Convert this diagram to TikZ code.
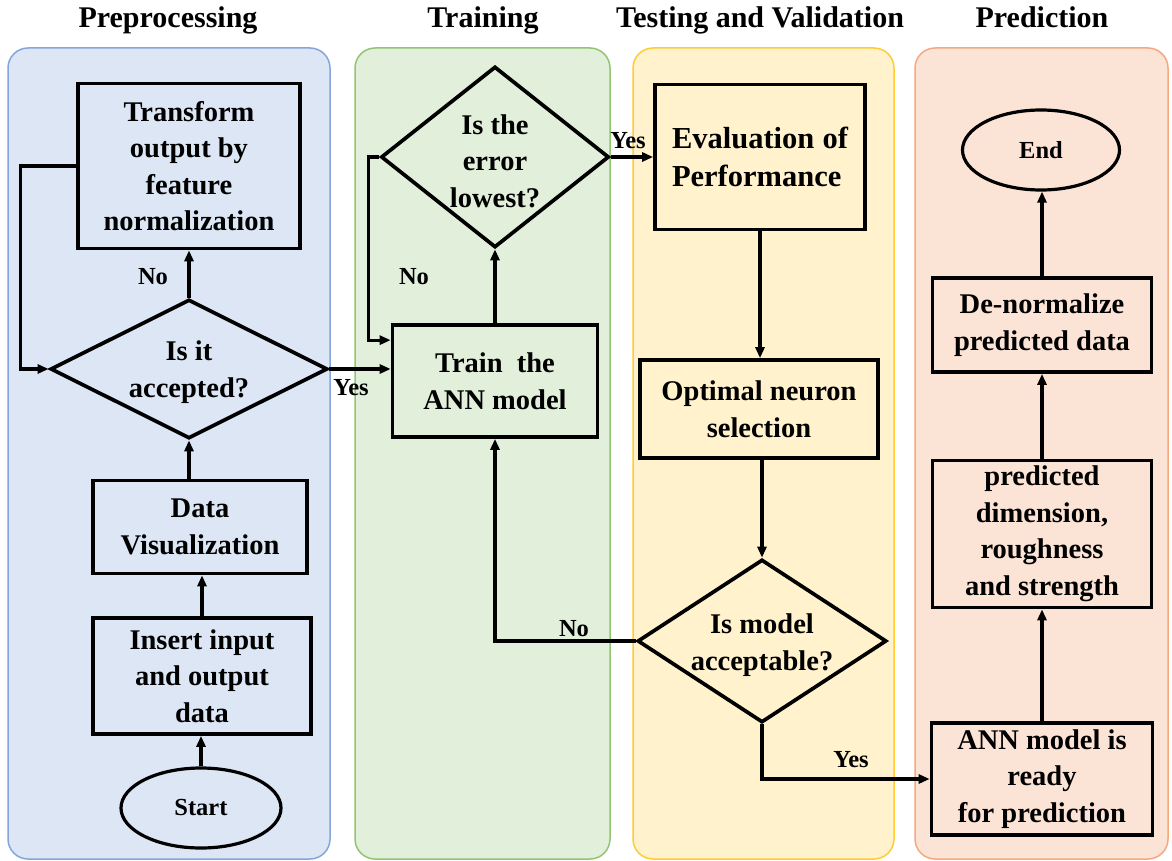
\documentclass[tikz,border=0pt]{standalone}
\usepackage{fontspec}
\setmainfont{Liberation Serif}
\usetikzlibrary{shapes.geometric,arrows.meta,calc}

\definecolor{preFill}{HTML}{DCE6F4}
\definecolor{preLine}{HTML}{86A5DC}
\definecolor{trnFill}{HTML}{E2EFDA}
\definecolor{trnLine}{HTML}{92C572}
\definecolor{tstFill}{HTML}{FFF2CC}
\definecolor{tstLine}{HTML}{FFCC33}
\definecolor{prdFill}{HTML}{FBE4D6}
\definecolor{prdLine}{HTML}{F4A97E}

\newcommand{\bodyfont}{\fontsize{28.5}{36.5}\selectfont\bfseries}
\newcommand{\widefont}{\fontsize{30.5}{38}\selectfont\bfseries}
\newcommand{\titlefont}{\fontsize{30}{36}\selectfont\bfseries}
\newcommand{\smallfont}{\fontsize{24.5}{30}\selectfont\bfseries}

\begin{document}
\begin{tikzpicture}[x=1pt,y=-1pt,
  lane/.style={rounded corners=20pt, line width=1.5pt},
  stepbox/.style={draw, line width=3.7pt, inner sep=0pt, align=center, font=\bodyfont},
  decision/.style={draw, diamond, line width=3.7pt, inner sep=0pt},
  terminal/.style={draw, ellipse, line width=3.2pt, inner sep=0pt, font=\smallfont},
  txt/.style={align=center, font=\bodyfont, inner sep=0pt},
  title/.style={anchor=base, font=\titlefont, inner sep=0pt},
  tag/.style={font=\smallfont, inner sep=0pt},
  flow/.style={line width=3.2pt, -{Triangle[length=11pt,width=9pt]}},
]
\useasboundingbox (0,0) rectangle (1172,861);

% swim lanes
\draw[lane, fill=preFill, draw=preLine] (8,48) rectangle (330,859);
\draw[lane, fill=trnFill, draw=trnLine] (355,48) rectangle (610,859);
\draw[lane, fill=tstFill, draw=tstLine] (633,48) rectangle (894,859);
\draw[lane, fill=prdFill, draw=prdLine] (915,48) rectangle (1168,859);

% lane titles
\node[title] (tPre) at (168,28) {Preprocessing};
\node[title] (tTrn) at (483,28) {Training};
\node[title] (tTst) at (760,28) {Testing and Validation};
\node[title] (tPrd) at (1042,28) {Prediction};

% preprocessing
\node[stepbox, minimum width=222, minimum height=165] (tf) at (189,166)
  {Transform\\output by\\feature\\normalization};
\node[decision, minimum width=277, minimum height=139] (acc) at (189,369) {};
\node[txt] (accT) at (189,372) {Is it\\accepted?};
\node[stepbox, minimum width=214, minimum height=93] (dv) at (200,527)
  {Data\\Visualization};
\node[stepbox, minimum width=218, minimum height=116] (ins) at (202,676)
  {Insert input\\and output\\data};
\node[terminal, minimum width=160, minimum height=80] (start) at (201,808) {Start};

% training
\node[decision, minimum width=228, minimum height=181] (err) at (495,157) {};
\node[txt] (errT) at (495,161) {Is the\\error\\lowest?};
\node[stepbox, minimum width=205, minimum height=112] (train) at (495,381)
  {Train\hspace{0.25em} the\\ANN model};

% testing and validation
\node[stepbox, minimum width=210, minimum height=145] (eval) at (760,157)
  {\begin{minipage}{176pt}\widefont\raggedright Evaluation\hfill of\\Performance\end{minipage}};
\node[stepbox, minimum width=238, minimum height=98] (opt) at (759,409)
  {Optimal neuron\\selection};
\node[decision, minimum width=249, minimum height=163] (mdl) at (762,641) {};
\node[txt] (mdlT) at (762,645) {Is model\\acceptable?};

% prediction
\node[stepbox, minimum width=221, minimum height=112] (ann) at (1042,779)
  {ANN model is\\ready\\for prediction};
\node[stepbox, minimum width=219, minimum height=147] (pred) at (1042,534)
  {predicted\\dimension,\\roughness\\and strength};
\node[stepbox, minimum width=219, minimum height=94] (den) at (1042,325)
  {De-normalize\\predicted data};
\node[terminal, minimum width=157, minimum height=80] (end) at (1041,150) {End};

% connectors: preprocessing
\draw[flow] (start.north) -- (start.north |- ins.south);
\draw[flow] (ins.north) -- (ins.north |- dv.south);
\draw[flow] (acc.south |- dv.north) -- (acc.south);
\draw[flow] (acc.north) -- (acc.north |- tf.south);
\draw[flow] (tf.west) -- ++(-56,0) |- (acc.west);
\draw[flow] (acc.east) -- (acc.east -| train.west);

% connectors: training
\draw[flow] (train.north) -- (err.south);
\draw[flow] (err.west) -- ++(-11,0) |- ($(train.north west)+(0,17)$);
\draw[flow] (err.east) -- (err.east -| eval.west);

% connectors: testing and validation
\draw[flow] (eval.south) -- (eval.south |- opt.north);
\draw[flow] (opt.south -| mdl.north) -- (mdl.north);
\draw[flow] (mdl.west) -| (train.south);
\draw[flow] (mdl.south) |- (ann.west);

% connectors: prediction
\draw[flow] (ann.north) -- (pred.south);
\draw[flow] (pred.north) -- (den.south);
\draw[flow] (den.north) -- (end.south -| den.north);

% branch labels
\node[tag] (noA) at (153,277) {No};
\node[tag] (yesA) at (351,388) {Yes};
\node[tag] (noE) at (414,277) {No};
\node[tag] (yesE) at (628,141) {Yes};
\node[tag] (noM) at (574,629) {No};
\node[tag] (yesM) at (851,760) {Yes};
\end{tikzpicture}
\end{document}
